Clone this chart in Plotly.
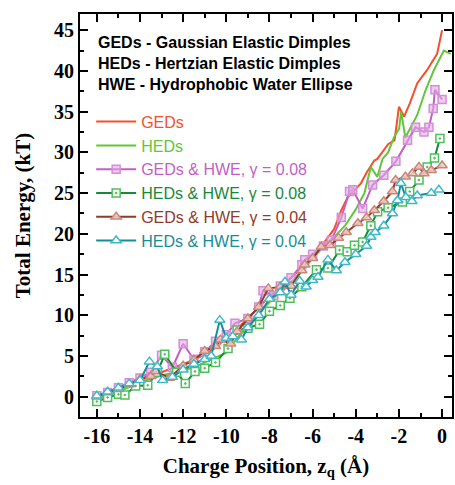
import plotly.graph_objects as go

# ---- data ----
ged_x = [-16, -15.5, -15, -14.5, -14, -13.5, -13, -12.5, -12, -11.5, -11, -10.5, -10, -9.5, -9, -8.5, -8, -7.5, -7, -6.5, -6, -5.5, -5,
         -4.67, -4.37, -4.0, -3.76, -3.5, -3.14, -3.0, -2.5, -2.2, -2.0, -1.76, -1.5, -1.15, -0.7, -0.23, 0.0]
ged_y = [0.0, 0.4, 1.0, 1.7, 2.3, 2.6, 3.0, 3.5, 4.0, 4.5, 5.2, 6.0, 7.2, 8.3, 9.6, 11.0, 12.3, 13.4, 14.6, 15.8, 17.2, 18.8, 20.6,
         22.9, 24.5, 25.5, 26.2, 27.5, 29.0, 29.2, 31.0, 31.5, 35.6, 34.4, 36.0, 38.5, 40.1, 42.1, 45.0]

hed_x = [-16, -15.5, -15, -14.5, -14, -13.5, -13, -12.5, -12, -11.5, -11, -10.5, -10, -9.5, -9, -8.5, -8, -7.5, -7, -6.5, -6, -5.5, -5,
         -4.5, -4.0, -3.6, -3.3, -3.0, -2.76, -2.5, -2.22, -1.99, -1.9, -1.7, -1.53, -1.15, -0.77, -0.38, 0.08, 0.4]
hed_y = [-0.3, 0.2, 0.6, 1.2, 1.8, 2.2, 2.6, 2.9, 3.2, 3.6, 4.2, 4.8, 5.4, 7.2, 8.8, 10.3, 11.6, 12.8, 14.0, 15.5, 17.0, 18.4, 19.6,
         21.0, 23.0, 25.0, 28.2, 27.0, 29.2, 30.0, 31.9, 32.9, 35.0, 31.8, 32.7, 34.6, 37.6, 40.1, 42.5, 42.1]

ged_hwe08_x = [-16, -15.5, -15, -14.5, -14, -13.5, -13, -12.5, -12, -11.5, -11, -10.5, -10, -9.6, -9, -8.5, -8.3, -7.8, -7.5, -7, -6.5,
               -6.36, -6, -5.5, -5.13, -4.67, -4.29, -4.14, -3.68, -3.22, -2.7, -2.14, -1.6, -1.23, -0.84, -0.61, -0.41, -0.33, 0.0]
ged_hwe08_y = [0.1, 0.5, 1.1, 1.7, 2.3, 3.0, 5.1, 3.6, 6.5, 4.6, 5.5, 6.8, 7.6, 9.0, 9.6, 11.0, 13.0, 12.4, 13.6, 14.6, 16.2,
               16.8, 17.5, 18.5, 19.2, 22.0, 25.2, 25.4, 23.1, 26.0, 27.2, 28.9, 31.5, 33.1, 32.5, 33.1, 35.4, 37.7, 36.5]

hed_hwe08_x = [-16, -15.5, -15, -14.7, -14.2, -13.64, -13.2, -12.85, -12.3, -11.9, -11.45, -11, -10.5, -9.92, -9.5, -9, -8.46, -8, -7.5,
               -7.05, -6.5, -5.82, -5.29, -4.75, -4.4, -4.06, -3.68, -3.3, -2.99, -2.5, -1.84, -1.5, -1.07, -0.69, -0.35, -0.1]
hed_hwe08_y = [-0.6, -0.1, 0.3, 0.2, 1.3, 1.4, 3.0, 5.2, 3.0, 1.6, 3.1, 3.5, 4.2, 5.9, 8.2, 8.4, 8.9, 10.5, 11.2,
               12.1, 13.5, 15.6, 15.8, 18.0, 17.8, 18.6, 19.0, 21.0, 22.7, 23.2, 23.9, 25.2, 26.6, 28.2, 29.3, 31.7]

ged_hwe04_x = [-16, -15.5, -15, -14.5, -14, -13.5, -13.26, -12.64, -12, -11.5, -11, -10.5, -10.27, -9.8, -9.5, -9, -8.5, -8.05, -7.5,
               -7, -6.5, -6.36, -6, -5.6, -5.2, -4.8, -4.44, -3.9, -3.5, -3.14, -2.7, -2.3, -2.15, -1.7, -1.38, -1.07, -0.84, -0.5, 0.0]
ged_hwe04_y = [0.0, 0.5, 0.9, 1.5, 2.1, 2.5, 3.1, 2.3, 3.8, 4.5, 5.6, 6.2, 7.0, 6.5, 8.0, 9.6, 11.0, 13.3, 13.5,
               13.6, 15.5, 16.2, 17.0, 18.4, 18.6, 19.5, 20.2, 21.3, 22.0, 22.9, 24.0, 25.2, 26.6, 27.0, 27.4, 28.2, 27.4, 27.8, 28.4]

hed_hwe04_x = [-16, -15.5, -15, -14.5, -14, -13.56, -13.2, -12.95, -12.5, -12, -11.5, -11, -10.7, -10.3, -10, -9.7, -9.3, -9, -8.5, -8,
               -7.5, -7.28, -7, -6.6, -6.3, -6, -5.75, -5.29, -4.9, -4.5, -4, -3.5, -3.3, -3.1, -2.7, -2.3, -2.07, -1.91, -1.68, -1.4,
               -1.15, -0.5, -0.15]
hed_hwe04_y = [0.1, 0.6, 1.1, 1.6, 2.0, 4.3, 3.7, 2.0, 2.4, 3.3, 4.0, 4.6, 5.0, 9.4, 7.2, 7.4, 7.0, 8.5, 10.0, 12.0,
               12.8, 14.1, 12.5, 14.2, 13.5, 14.3, 14.7, 16.8, 15.5, 16.5, 17.5, 18.5, 19.6, 20.2, 21.0, 22.5, 24.1, 26.2, 24.5, 24.0,
               24.7, 25.0, 25.4]

x_ticks = [-16, -14, -12, -10, -8, -6, -4, -2, 0]
y_ticks = [0, 5, 10, 15, 20, 25, 30, 35, 40, 45]

SANS = "Liberation Sans, Arial, sans-serif"
SERIF = "Liberation Serif, Times New Roman, serif"

def cname(txt, col):
    return f"<span style='color:{col}'>{txt}</span>"

fig = go.Figure()
fig.add_trace(go.Scatter(x=ged_x, y=ged_y, mode="lines", line=dict(color="#f2512b", width=2),
                         name=cname("GEDs", "#f2512b")))
fig.add_trace(go.Scatter(x=hed_x, y=hed_y, mode="lines", line=dict(color="#62c63a", width=2),
                         name=cname("HEDs", "#62c63a")))
fig.add_trace(go.Scatter(x=ged_hwe08_x, y=ged_hwe08_y, mode="lines+markers", line=dict(color="#c25fc4", width=2),
                         marker=dict(symbol="square", size=8, color="rgba(225,170,228,0.6)",
                                     line=dict(color="#d58ed8", width=1.5)),
                         name=cname("GEDs &amp; HWE, γ = 0.08", "#c25fc4")))
fig.add_trace(go.Scatter(x=hed_hwe08_x, y=hed_hwe08_y, mode="lines+markers", line=dict(color="#17893a", width=2),
                         marker=dict(symbol="square-dot", size=8, color="white",
                                     line=dict(color="#4cc05a", width=1.5)),
                         name=cname("HEDs &amp; HWE, γ = 0.08", "#17893a")))
fig.add_trace(go.Scatter(x=ged_hwe04_x, y=ged_hwe04_y, mode="lines+markers", line=dict(color="#8e3b2a", width=2),
                         marker=dict(symbol="triangle-up", size=9, color="rgba(240,205,200,0.9)",
                                     line=dict(color="#c9877a", width=1.5)),
                         name=cname("GEDs &amp; HWE, γ = 0.04", "#8e3b2a")))
fig.add_trace(go.Scatter(x=hed_hwe04_x, y=hed_hwe04_y, mode="lines+markers", line=dict(color="#178d98", width=2),
                         marker=dict(symbol="triangle-up", size=9, color="white",
                                     line=dict(color="#3fb9c8", width=1.5)),
                         name=cname("HEDs &amp; HWE, γ = 0.04", "#178d98")))

axis_common = dict(showline=True, linecolor="black", linewidth=2, mirror="ticks", ticks="inside",
                   ticklen=8, tickwidth=2, tickcolor="black", showgrid=False, zeroline=False,
                   tickfont=dict(family=SERIF, size=20, color="black", weight="bold"))

fig.update_xaxes(range=[-16.78, 0.46], tickvals=x_ticks, ticktext=[str(v) for v in x_ticks],
                 minor=dict(dtick=1, tick0=0, ticks="inside", ticklen=4, tickwidth=2, tickcolor="black"),
                 title=dict(text="Charge Position, z<sub>q</sub> (Å)", standoff=12,
                            font=dict(family=SERIF, size=21, color="black", weight="bold")),
                 **axis_common)
fig.update_yaxes(range=[-2.5, 47.0], tickvals=y_ticks, ticktext=[str(v) for v in y_ticks],
                 minor=dict(dtick=2.5, tick0=0, ticks="inside", ticklen=4, tickwidth=2, tickcolor="black"),
                 title=dict(text="Total Energy, (kT)", standoff=18,
                            font=dict(family=SERIF, size=21, color="black", weight="bold")),
                 **axis_common)

fig.add_annotation(xref="paper", yref="paper", x=0.043, y=0.955, xanchor="left", yanchor="top",
                   align="left", showarrow=False,
                   text="GEDs - Gaussian Elastic Dimples<br>HEDs - Hertzian Elastic Dimples<br>HWE - Hydrophobic Water Ellipse",
                   font=dict(family=SANS, size=16, color="black", weight="bold"))

fig.update_layout(
    width=455, height=485,
    margin=dict(l=80, r=1, t=14, b=68),
    paper_bgcolor="white", plot_bgcolor="white",
    showlegend=True,
    legend=dict(x=0.03, y=0.775, xanchor="left", yanchor="top", bgcolor="rgba(0,0,0,0)",
                font=dict(family=SANS, size=16), itemwidth=40, tracegroupgap=0),
)

fig.write_html("out.html")
